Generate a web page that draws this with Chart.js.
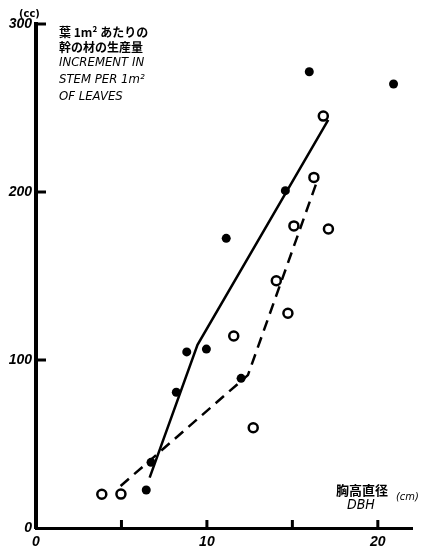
<!DOCTYPE html>
<html>
<head>
<meta charset="utf-8">
<script src="https://cdn.jsdelivr.net/npm/chart.js@4"></script>
<style>
  html, body { margin: 0; padding: 0; background: #fff; }
  #wrap { position: relative; width: 424px; height: 555px; }
</style>
</head>
<body>
<div id="wrap"><canvas id="myChart" width="424" height="555"></canvas></div>
<script>
// filled circles
const filledX = [6.45, 6.73, 8.21, 8.82, 9.97, 11.13, 12.0, 14.59, 15.99, 20.92];
const filledY = [22.6, 39.1, 80.8, 104.8, 106.5, 172.4, 89.1, 200.8, 271.6, 264.3];
// open circles
const openX = [3.85, 4.97, 11.57, 12.71, 14.06, 14.74, 15.09, 16.26, 16.81, 17.11];
const openY = [20.1, 20.2, 114.3, 59.7, 147.2, 127.8, 179.8, 208.7, 245.2, 178.0];
// fitted lines
const solidX = [6.65, 9.45, 17.1];
const solidY = [30, 109, 243];
const dashX = [4.95, 12.4, 16.5];
const dashY = [25, 91, 208];
// ticks
const xTickValues = [0, 5, 10, 15, 20];
const xTickLabels = ['0', '', '10', '', '20'];
const yTickValues = [0, 100, 200, 300];
const yTickLabels = ['0', '100', '200', '300'];

function pts(xs, ys) {
  return xs.map((x, i) => ({x: x, y: ys[i]}));
}

const tickFont = {family: "'Liberation Sans', Arial, sans-serif", style: 'italic', weight: 'bold', size: 14};

// inner tick marks + annotation texts
const decoPlugin = {
  id: 'deco',
  afterDraw(chart) {
    const ctx = chart.ctx;
    const xs = chart.scales.x, ys = chart.scales.y;
    ctx.save();
    ctx.strokeStyle = '#000';
    ctx.lineWidth = 3;
    xTickValues.forEach(v => {
      if (v === 0) return;
      const px = xs.getPixelForValue(v);
      ctx.beginPath();
      ctx.moveTo(px, ys.bottom);
      ctx.lineTo(px, ys.bottom - 8);
      ctx.stroke();
    });
    yTickValues.forEach(v => {
      if (v === 0) return;
      const py = ys.getPixelForValue(v);
      ctx.beginPath();
      ctx.moveTo(xs.left, py);
      ctx.lineTo(xs.left + 10, py);
      ctx.stroke();
    });

    ctx.fillStyle = '#000';
    ctx.textBaseline = 'middle';
    ctx.textAlign = 'left';
    // unit of y
    ctx.font = "bold 11px 'DejaVu Sans Condensed', sans-serif";
    ctx.fillText('(cc)', 19, 14);

    // y title
    ctx.font = "bold 12px 'Noto Sans CJK JP', sans-serif";
    ctx.fillText('葉 1m² あたりの', 59, 32);
    ctx.fillText('幹の材の生産量', 59, 47);
    ctx.font = "italic 13px 'DejaVu Sans Condensed', sans-serif";
    ctx.fillText('INCREMENT IN', 59, 63);
    ctx.fillText('STEM PER 1m²', 59, 80);
    ctx.fillText('OF LEAVES', 59, 97);

    // x title
    ctx.font = "bold 13px 'Noto Sans CJK JP', sans-serif";
    ctx.fillText('胸高直径', 336, 490);
    ctx.font = "italic 11px 'DejaVu Sans Condensed', sans-serif";
    ctx.fillText('(cm)', 396, 497);
    ctx.font = "italic 14px 'DejaVu Sans Condensed', sans-serif";
    ctx.fillText('DBH', 347, 505);
    ctx.restore();
  }
};

new Chart('myChart', {
  type: 'scatter',
  data: {
    datasets: [{
      label: 'solid',
      type: 'line',
      data: pts(solidX, solidY),
      borderColor: '#000',
      borderWidth: 2.5,
      pointRadius: 0,
      fill: false,
      tension: 0,
      clip: false
    }, {
      label: 'dashed',
      type: 'line',
      data: pts(dashX, dashY),
      borderColor: '#000',
      borderWidth: 2.5,
      borderDash: [11, 7],
      pointRadius: 0,
      fill: false,
      tension: 0,
      clip: false
    }, {
      label: 'filled',
      data: pts(filledX, filledY),
      pointStyle: 'circle',
      pointRadius: 4.5,
      pointBackgroundColor: '#000',
      pointBorderColor: '#000',
      pointBorderWidth: 0,
      clip: false
    }, {
      label: 'open',
      data: pts(openX, openY),
      pointStyle: 'circle',
      pointRadius: 4.5,
      pointBackgroundColor: '#fff',
      pointBorderColor: '#000',
      pointBorderWidth: 2.5,
      clip: false
    }]
  },
  plugins: [decoPlugin],
  options: {
    responsive: false,
    animation: false,
    layout: {
      padding: {top: 24, right: 12, left: 0, bottom: 0}
    },
    plugins: {
      legend: {display: false},
      tooltip: {enabled: false}
    },
    scales: {
      x: {
        type: 'linear',
        min: 0,
        max: 22,
        afterBuildTicks: function(scale) {
          scale.ticks = xTickValues.map(v => ({value: v}));
        },
        afterFit: function(scale) { scale.height = 27; },
        grid: {display: false, drawTicks: false},
        border: {display: true, color: '#000', width: 3},
        ticks: {
          color: '#000',
          font: tickFont,
          padding: 6,
          maxRotation: 0,
          autoSkip: false,
          callback: function(value) {
            return xTickLabels[xTickValues.indexOf(value)];
          }
        }
      },
      y: {
        type: 'linear',
        min: 0,
        max: 300,
        afterBuildTicks: function(scale) {
          scale.ticks = yTickValues.map(v => ({value: v}));
        },
        afterFit: function(scale) { scale.width = 36; },
        grid: {display: false, drawTicks: false},
        border: {display: true, color: '#000', width: 4},
        ticks: {
          color: '#000',
          font: tickFont,
          padding: 4,
          autoSkip: false,
          callback: function(value) {
            return yTickLabels[yTickValues.indexOf(value)];
          }
        }
      }
    }
  }
});
</script>
</body>
</html>
